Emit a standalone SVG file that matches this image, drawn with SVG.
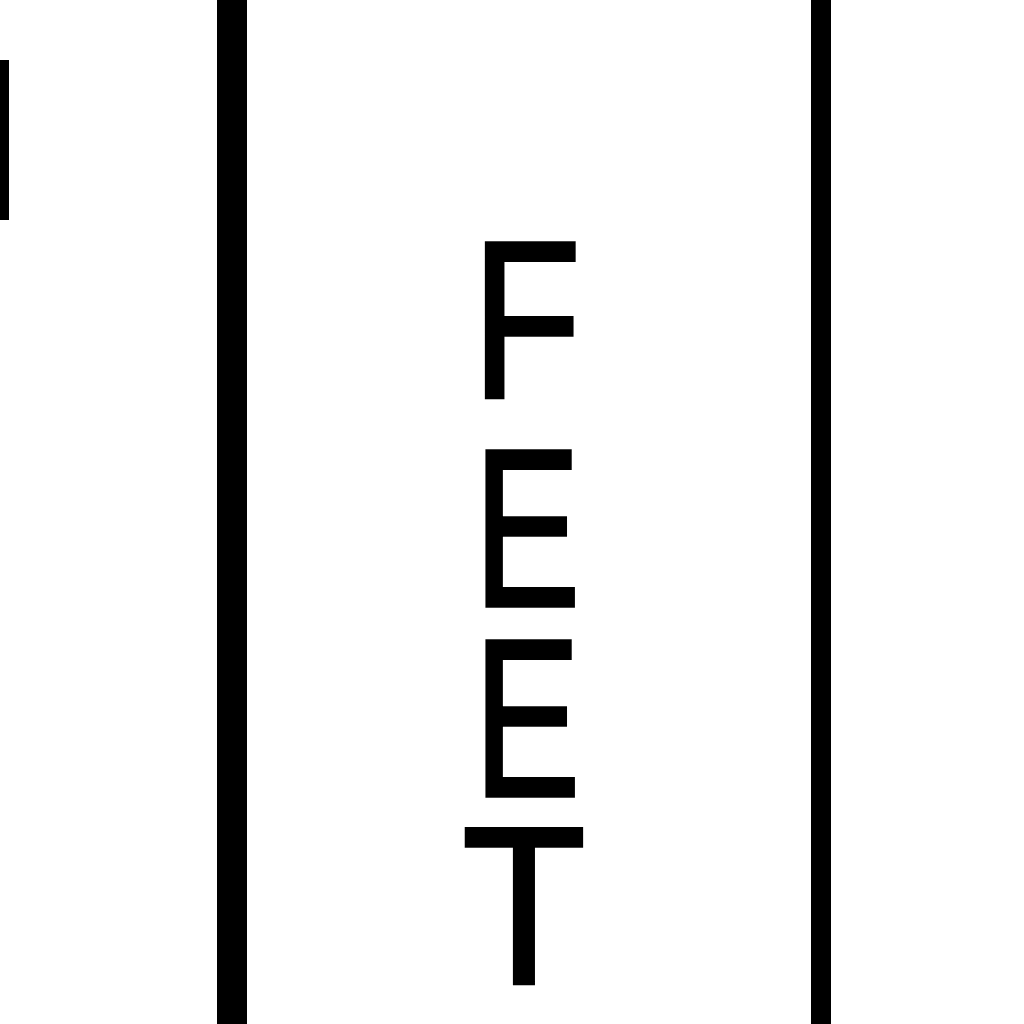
<svg xmlns="http://www.w3.org/2000/svg" width="1024" height="1024" viewBox="0 0 1024 1024">
<style>
.bar{fill:#000}
.lt{font-family:"Liberation Sans",Arial,sans-serif;font-size:225px;fill:#000;stroke:#000;stroke-width:3.5px}
</style>
<rect width="1024" height="1024" fill="#fff"/>
<g id="lines">
<rect class="bar" x="0" y="60" width="9" height="160"/>
<rect class="bar" x="217" y="0" width="30" height="1024"/>
<rect class="bar" x="811" y="0" width="20" height="1024"/>
</g>
<g id="label">
<text class="lt" transform="translate(471.5,397.5) scale(0.80,1)">F</text>
<text class="lt" transform="translate(473.6,605.5) scale(0.714,1)">E</text>
<text class="lt" transform="translate(473.6,795.5) scale(0.714,1)">E</text>
<text class="lt" transform="translate(461.8,983.5) scale(0.906,1)">T</text>
</g>
</svg>
